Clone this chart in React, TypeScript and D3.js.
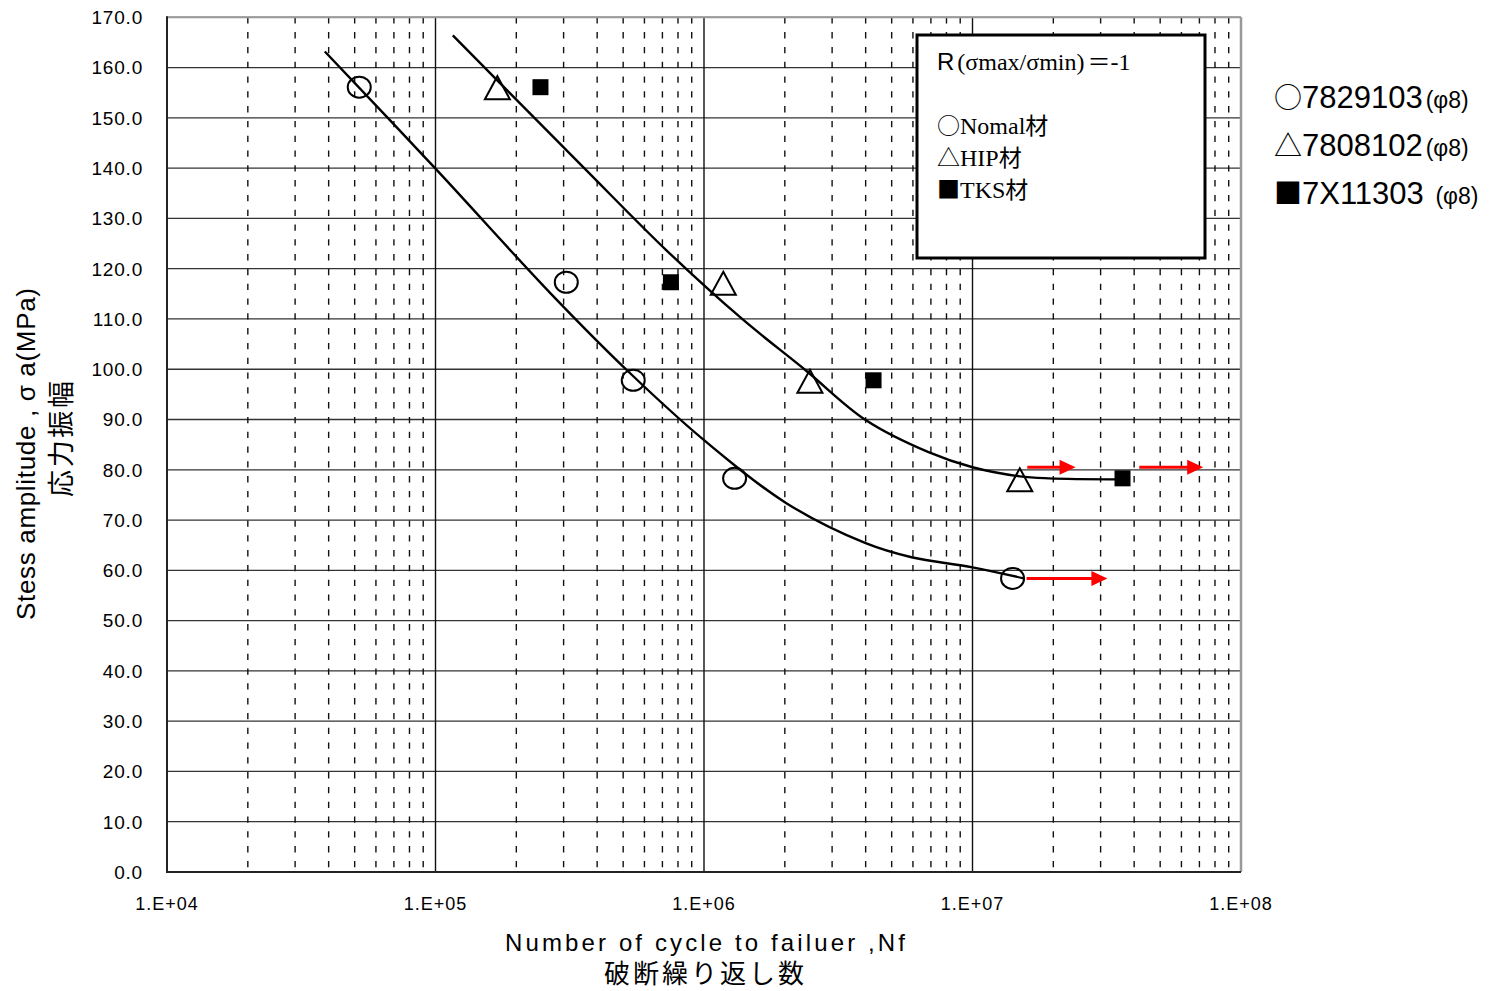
import React from 'react';
import * as d3 from 'd3';

// S-N data
const yTicks = d3.range(0, 171, 10);
const xDecades = [1e4, 1e5, 1e6, 1e7, 1e8];
const xTickLabels = ['1.E+04', '1.E+05', '1.E+06', '1.E+07', '1.E+08'];

// O 7829103 (Nomal)
const nomalN = [5.2e4, 3.07e5, 5.45e5, 1.3e6, 1.41e7];
const nomalS = [156.1, 117.3, 97.8, 78.3, 58.4];
// triangle 7808102 (HIP)
const hipN = [1.7e5, 1.18e6, 2.48e6, 1.5e7];
const hipS = [156.0, 117.1, 97.6, 78.0];
// square 7X11303 (TKS)
const tksN = [2.46e5, 7.53e5, 4.28e6, 3.62e7];
const tksS = [156.1, 117.3, 97.8, 78.3];

// fitted curves
const lowerFitN = [3.87e4, 1e5, 2.66e5, 5.26e5, 1e6, 2.02e6, 4.0e6, 5.93e6, 1e7, 1.55e7];
const lowerFitS = [163.2, 139.9, 115.3, 99.4, 85.9, 73.4, 65.4, 62.6, 60.6, 58.4];
const upperFitN = [1.16e5, 3.58e5, 7.23e5, 1.38e6, 2.39e6, 4.0e6, 6.86e6, 1e7, 1.5e7, 1.92e7, 3.62e7];
const upperFitS = [166.4, 140.0, 123.7, 110.1, 99.8, 89.9, 83.5, 80.5, 78.7, 78.3, 78.1];

// run-out arrows
const arrowFromN = [1.6e7, 4.18e7, 1.59e7];
const arrowToN = [2.42e7, 7.23e7, 3.18e7];
const arrowS = [80.5, 80.5, 58.4];

const legendRows = [
  { mark: '○', id: '7829103', tail: '(φ8)' },
  { mark: '△', id: '7808102', tail: '(φ8)' },
  { mark: '■', id: '7X11303 ', tail: '(φ8)' },
];

const sans = 'Liberation Sans, Arial, sans-serif';
const serif = 'Liberation Serif, Times New Roman, serif';
const cjk = 'Noto Sans CJK JP, sans-serif';

export default function App() {
  const L = 167, R = 1241, T = 17.3, B = 872;
  const x = d3.scaleLog().domain([1e4, 1e8]).range([L, R]);
  const y = d3.scaleLinear().domain([0, 170]).range([B, T]);

  const minors: number[] = [];
  xDecades.slice(0, 4).forEach(d => {
    for (let k = 2; k <= 9; k++) minors.push(k * d);
  });

  const line = d3.line<[number, number]>()
    .x(d => x(d[0]))
    .y(d => y(d[1]))
    .curve(d3.curveCatmullRom.alpha(0.5));

  const lowerPath = line(lowerFitN.map((n, i) => [n, lowerFitS[i]]));
  const upperPath = line(upperFitN.map((n, i) => [n, upperFitS[i]]));

  return (
    <svg width={1496} height={991} style={{ position: 'absolute', left: 0, top: 0, background: '#fff' }}>
      {/* horizontal grid */}
      {yTicks.map(t => (
        <line key={'h' + t} x1={L} x2={R} y1={y(t)} y2={y(t)} stroke="#333" strokeWidth={1.3} />
      ))}
      {/* minor vertical dashed */}
      {minors.map(m => (
        <line key={'m' + m} x1={x(m)} x2={x(m)} y1={T} y2={B} stroke="#111" strokeWidth={1.4}
          strokeDasharray="6.3 8.5" />
      ))}
      {/* major verticals */}
      {xDecades.slice(1, 4).map(d => (
        <line key={'d' + d} x1={x(d)} x2={x(d)} y1={T} y2={B} stroke="#111" strokeWidth={1.4} />
      ))}
      {/* frame */}
      <line x1={L} x2={R} y1={T} y2={T} stroke="#999" strokeWidth={2} />
      <line x1={R} x2={R} y1={T} y2={B} stroke="#999" strokeWidth={2.5} />
      <line x1={L} x2={L} y1={T - 1} y2={B + 1} stroke="#222" strokeWidth={2} />
      <line x1={L} x2={R} y1={B} y2={B} stroke="#222" strokeWidth={2} />

      {/* y tick labels */}
      {yTicks.map(t => (
        <text key={'yl' + t} x={143} y={y(t)} dy="0.36em" textAnchor="end" fontFamily={sans}
          fontSize={19} letterSpacing={0.8}>{t.toFixed(1)}</text>
      ))}
      {/* x tick labels */}
      {xDecades.map((d, i) => (
        <text key={'xl' + d} x={x(d)} y={910} textAnchor="middle" fontFamily={sans}
          fontSize={18} letterSpacing={1}>{xTickLabels[i]}</text>
      ))}

      {/* axis titles */}
      <text x={505} y={951} fontFamily={sans} fontSize={24} textLength={400} lengthAdjust="spacing">
        Number of cycle to failuer ,Nf
      </text>
      <text x={604} y={983} fontFamily={cjk} fontSize={26} textLength={200} lengthAdjust="spacing">
        破断繰り返し数
      </text>
      <g transform="translate(35,620) rotate(-90)">
        <text x={0} y={0} fontFamily={sans} fontSize={26} textLength={332} lengthAdjust="spacing">
          Stess amplitude , σ a(MPa)
        </text>
      </g>
      <g transform="translate(71,497) rotate(-90)">
        <text x={0} y={0} fontFamily={cjk} fontSize={27} textLength={116} lengthAdjust="spacing">
          応力振幅
        </text>
      </g>

      {/* fitted curves */}
      <path d={lowerPath || ''} fill="none" stroke="#000" strokeWidth={2.4} />
      <path d={upperPath || ''} fill="none" stroke="#000" strokeWidth={2.4} />

      {/* markers */}
      {nomalN.map((n, i) => (
        <ellipse key={'c' + i} cx={x(n)} cy={y(nomalS[i])} rx={11.5} ry={10.5}
          fill="none" stroke="#000" strokeWidth={2} />
      ))}
      {hipN.map((n, i) => {
        const cx = x(n), cy = y(hipS[i]);
        return (
          <polygon key={'t' + i}
            points={`${cx},${cy - 11.5} ${cx + 12.5},${cy + 11.5} ${cx - 12.5},${cy + 11.5}`}
            fill="none" stroke="#000" strokeWidth={2} />
        );
      })}
      {tksN.map((n, i) => (
        <rect key={'s' + i} x={x(n) - 8} y={y(tksS[i]) - 8} width={16} height={16} fill="#000" />
      ))}

      {/* run-out arrows */}
      {arrowFromN.map((n, i) => {
        const x0 = x(n), x1 = x(arrowToN[i]), yy = y(arrowS[i]);
        return (
          <g key={'a' + i}>
            <line x1={x0} x2={x1 - 14} y1={yy} y2={yy} stroke="#ff0000" strokeWidth={3} />
            <polygon points={`${x1 - 16},${yy - 7.5} ${x1},${yy} ${x1 - 16},${yy + 7.5}`} fill="#ff0000" />
          </g>
        );
      })}

      {/* legend box */}
      <rect x={917} y={35} width={288} height={223} fill="#fff" stroke="#000" strokeWidth={3} />
      <text x={937} y={70} fontFamily={serif} fontSize={24}>
        <tspan fontFamily={sans}>R</tspan>
        <tspan dx={3}>(σmax/σmin)</tspan>
        <tspan fontFamily={cjk} fontSize={23} dx={3}>＝</tspan>
        <tspan>-1</tspan>
      </text>
      {['○Nomal材', '△HIP材', '■TKS材'].map((s, i) => (
        <text key={'lb' + i} x={937} y={134 + i * 32} fontFamily={serif} fontSize={24}>
          <tspan fontFamily={cjk} fontSize={23}>{s[0]}</tspan>
          <tspan>{s.slice(1, -1)}</tspan>
          <tspan fontFamily={cjk} fontSize={23}>{s.slice(-1)}</tspan>
        </text>
      ))}

      {/* right legend */}
      {legendRows.map((r, i) => (
        <text key={'rl' + i} x={1274} y={108 + i * 48} fontFamily={sans} fontSize={31}>
          <tspan fontFamily={cjk} fontSize={28}>{r.mark}</tspan>
          <tspan>{r.id}</tspan>
          <tspan fontSize={23} dx={3}>{r.tail}</tspan>
        </text>
      ))}
    </svg>
  );
}
